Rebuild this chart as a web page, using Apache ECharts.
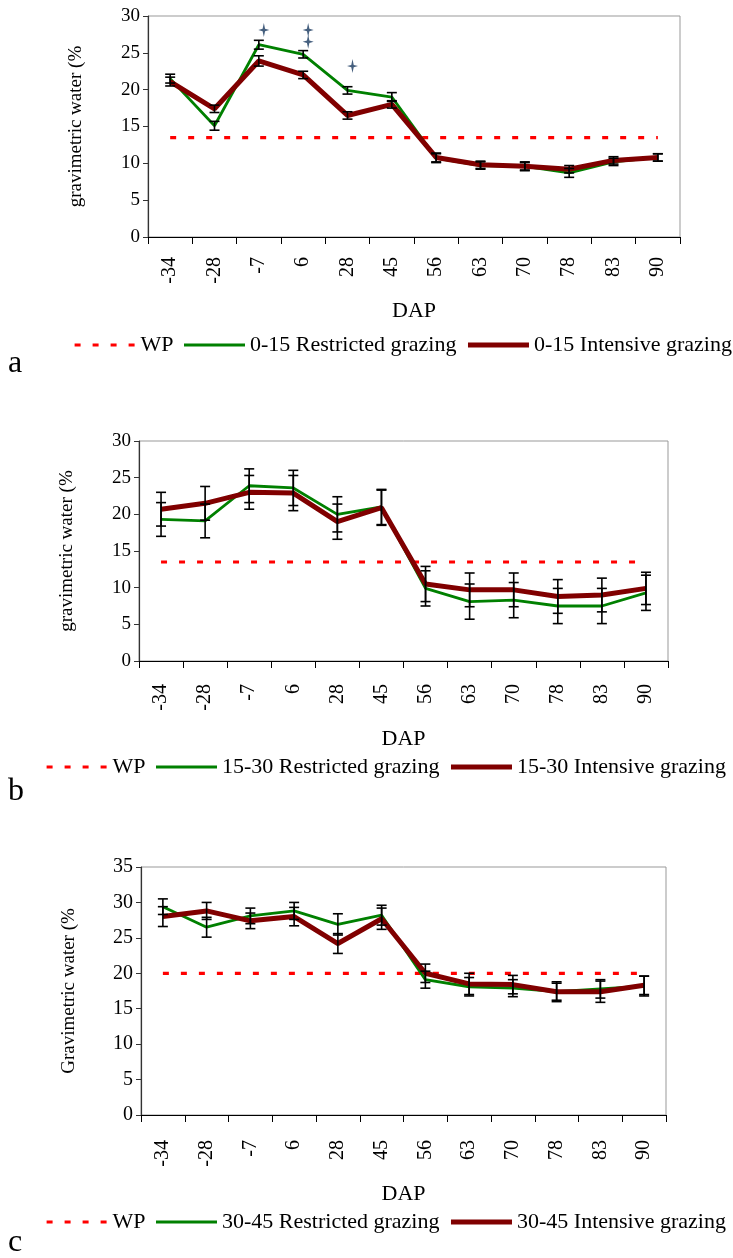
<!DOCTYPE html>
<html>
<head>
<meta charset="utf-8">
<script src="https://cdn.jsdelivr.net/npm/echarts@6/dist/echarts.min.js"></script>
<style>
  html, body { margin: 0; padding: 0; background: #fff; }
  #chart { width: 733px; height: 1258px; }
</style>
</head>
<body>
<div id="chart"></div>
<script>
// Days after planting (DAP) sampling dates
const dap = ['-34', '-28', '-7', '6', '28', '45', '56', '63', '70', '78', '83', '90'];

// Wilting point (WP) for each depth
const wpLevels = [13.5, 13.5, 20.0];

// 0-15 cm
const restricted015 = [21.5, 15.1, 26.1, 24.8, 19.9, 19.0, 10.7, 9.7, 9.6, 8.7, 10.2, 10.8];
const restricted015Err = [0.6, 0.6, 0.6, 0.5, 0.5, 0.6, 0.6, 0.5, 0.5, 0.6, 0.5, 0.5];
const intensive015 = [21.1, 17.4, 23.9, 22.0, 16.5, 18.0, 10.8, 9.8, 9.6, 9.2, 10.4, 10.8];
const intensive015Err = [0.6, 0.5, 0.7, 0.5, 0.5, 0.5, 0.6, 0.5, 0.6, 0.5, 0.5, 0.5];
// significance marks (category, value)
const marks015 = [['-7', 28.1], ['6', 28.1], ['6', 26.5], ['28', 23.2]];

// 15-30 cm
const restricted1530 = [19.3, 19.1, 23.9, 23.6, 20.0, 21.0, 9.9, 8.1, 8.3, 7.5, 7.5, 9.3];
const restricted1530Err = [2.3, 2.3, 2.3, 2.4, 2.4, 2.4, 2.4, 2.4, 2.4, 2.4, 2.4, 2.4];
const intensive1530 = [20.7, 21.5, 23.0, 22.9, 19.0, 20.9, 10.5, 9.7, 9.7, 8.8, 9.0, 9.9];
const intensive1530Err = [2.3, 2.3, 2.3, 2.4, 2.4, 2.4, 2.4, 2.3, 2.3, 2.3, 2.3, 2.2];

// 30-45 cm
const restricted3045 = [29.4, 26.5, 28.1, 28.8, 26.9, 28.2, 19.1, 18.1, 17.9, 17.4, 17.8, 18.2];
const restricted3045Err = [1.1, 1.4, 1.1, 1.2, 1.5, 1.4, 1.2, 1.3, 1.2, 1.2, 1.3, 1.4];
const intensive3045 = [28.0, 28.8, 27.4, 28.0, 24.2, 27.7, 20.0, 18.5, 18.4, 17.4, 17.4, 18.3];
const intensive3045Err = [1.4, 1.2, 1.1, 1.3, 1.4, 1.5, 1.3, 1.5, 1.3, 1.4, 1.5, 1.3];

const FONT = '"Liberation Serif", "Times New Roman", serif';
const GREEN = '#008000';
const DARKRED = '#800000';
const WPRED = '#ff0000';

const WP_STYLE = { color: WPRED, width: 3.2, type: [6, 12] };
const GREEN_STYLE = { color: GREEN, width: 2.8 };
const RED_STYLE = { color: DARKRED, width: 5 };

const panels = [
  { depth: '0-15', wp: wpLevels[0], r: restricted015, rErr: restricted015Err, i: intensive015, iErr: intensive015Err,
    grid: { left: 148, top: 16, width: 532, height: 221 }, yMax: 30, yName: 'gravimetric water (%',
    tickSize: 19, xTickSize: 20, xMargin: 20, nameGap: 63,
    legend: { left: 73, top: 334 }, letter: 'a', letterTop: 348 },
  { depth: '15-30', wp: wpLevels[1], r: restricted1530, rErr: restricted1530Err, i: intensive1530, iErr: intensive1530Err,
    grid: { left: 139, top: 441, width: 529, height: 220 }, yMax: 30, yName: 'gravimetric water (%',
    tickSize: 19, xTickSize: 20, xMargin: 23, nameGap: 67,
    legend: { left: 45, top: 756 }, letter: 'b', letterTop: 776 },
  { depth: '30-45', wp: wpLevels[2], r: restricted3045, rErr: restricted3045Err, i: intensive3045, iErr: intensive3045Err,
    grid: { left: 141, top: 867, width: 525, height: 248 }, yMax: 35, yName: 'Gravimetric water (%',
    tickSize: 20, xTickSize: 20, xMargin: 25, nameGap: 68,
    legend: { left: 45, top: 1211 }, letter: 'c', letterTop: 1227 }
];

function errorBars(values, errs, idx, name) {
  return {
    type: 'custom',
    name: name + ' error',
    xAxisIndex: idx, yAxisIndex: idx,
    z: 5,
    silent: true,
    data: values.map((v, k) => [k, v, errs[k]]),
    encode: { x: 0, y: 1 },
    renderItem: function (params, api) {
      const x = api.value(0), v = api.value(1), e = api.value(2);
      const hi = api.coord([x, v + e]);
      const lo = api.coord([x, v - e]);
      const half = 5;
      const style = { stroke: '#000', lineWidth: 1.6, fill: null };
      return {
        type: 'group',
        children: [
          { type: 'line', shape: { x1: hi[0], y1: hi[1], x2: lo[0], y2: lo[1] }, style: style },
          { type: 'line', shape: { x1: hi[0] - half, y1: hi[1], x2: hi[0] + half, y2: hi[1] }, style: style },
          { type: 'line', shape: { x1: lo[0] - half, y1: lo[1], x2: lo[0] + half, y2: lo[1] }, style: style }
        ]
      };
    }
  };
}

const option = {
  animation: false,
  backgroundColor: '#fff',
  textStyle: { fontFamily: FONT, color: '#000' },
  grid: [], xAxis: [], yAxis: [], legend: [], series: [], graphic: []
};

panels.forEach((p, idx) => {
  option.grid.push(Object.assign({ show: true, borderColor: '#999', borderWidth: 1, containLabel: false }, p.grid));
  option.xAxis.push({
    type: 'category', gridIndex: idx, data: dap, boundaryGap: true,
    name: 'DAP', nameLocation: 'middle', nameGap: p.nameGap,
    nameTextStyle: { fontFamily: FONT, fontSize: 22, color: '#000' },
    axisLine: { lineStyle: { color: '#000', width: 1 } },
    axisTick: { show: true, alignWithLabel: false, length: 7, lineStyle: { color: '#000' } },
    axisLabel: { rotate: 90, fontFamily: FONT, fontSize: p.xTickSize, color: '#000', margin: p.xMargin, interval: 0 },
    splitLine: { show: false }
  });
  option.yAxis.push({
    type: 'value', gridIndex: idx, min: 0, max: p.yMax, interval: 5,
    name: p.yName, nameLocation: 'middle', nameGap: 62, nameRotate: 90,
    nameTextStyle: { fontFamily: FONT, fontSize: 19, color: '#000' },
    axisLine: { show: true, lineStyle: { color: '#333', width: 1.2 } },
    axisTick: { show: true, length: 5, lineStyle: { color: '#333' } },
    axisLabel: { fontFamily: FONT, fontSize: p.tickSize, color: '#000', margin: 8 },
    splitLine: { show: false }
  });

  const wpName = 'WP';
  const rName = p.depth + ' Restricted grazing';
  const iName = p.depth + ' Intensive grazing';

  option.series.push({
    type: 'line', name: wpName, xAxisIndex: idx, yAxisIndex: idx,
    data: dap.map(() => p.wp), symbol: 'none', z: 2, silent: true,
    lineStyle: WP_STYLE, itemStyle: { color: WPRED }
  });
  option.series.push({
    type: 'line', name: rName, xAxisIndex: idx, yAxisIndex: idx,
    data: p.r, symbol: 'none', z: 3,
    lineStyle: GREEN_STYLE, itemStyle: { color: GREEN }
  });
  option.series.push({
    type: 'line', name: iName, xAxisIndex: idx, yAxisIndex: idx,
    data: p.i, symbol: 'none', z: 4,
    lineStyle: RED_STYLE, itemStyle: { color: DARKRED }
  });
  option.series.push(errorBars(p.r, p.rErr, idx, rName));
  option.series.push(errorBars(p.i, p.iErr, idx, iName));

  option.legend.push({
    left: p.legend.left, top: p.legend.top, orient: 'horizontal', padding: 0,
    data: [
      { name: wpName, lineStyle: WP_STYLE },
      { name: rName, lineStyle: GREEN_STYLE },
      { name: iName, lineStyle: RED_STYLE }
    ],
    itemWidth: 61, itemHeight: 22, itemGap: 9, selectedMode: false,
    itemStyle: { opacity: 0 },
    textStyle: { fontFamily: FONT, fontSize: 22, color: '#000' }
  });

  option.graphic.push({
    type: 'text', left: 8, top: p.letterTop,
    style: { text: p.letter, font: '32px ' + FONT, fill: '#000' }
  });
});

// significance marks above the 0-15 cm series
option.series.push({
  type: 'scatter', name: 'significance', xAxisIndex: 0, yAxisIndex: 0,
  data: marks015, z: 6, silent: true,
  symbol: 'path://M0,-12 L2,-2 L9,0 L2,2 L0,12 L-2,2 L-9,0 L-2,-2 Z',
  symbolSize: [11, 14], symbolOffset: [5, 0],
  itemStyle: { color: '#17375e' }
});

const chart = echarts.init(document.getElementById('chart'), null, { renderer: 'canvas' });
chart.setOption(option);
</script>
</body>
</html>
